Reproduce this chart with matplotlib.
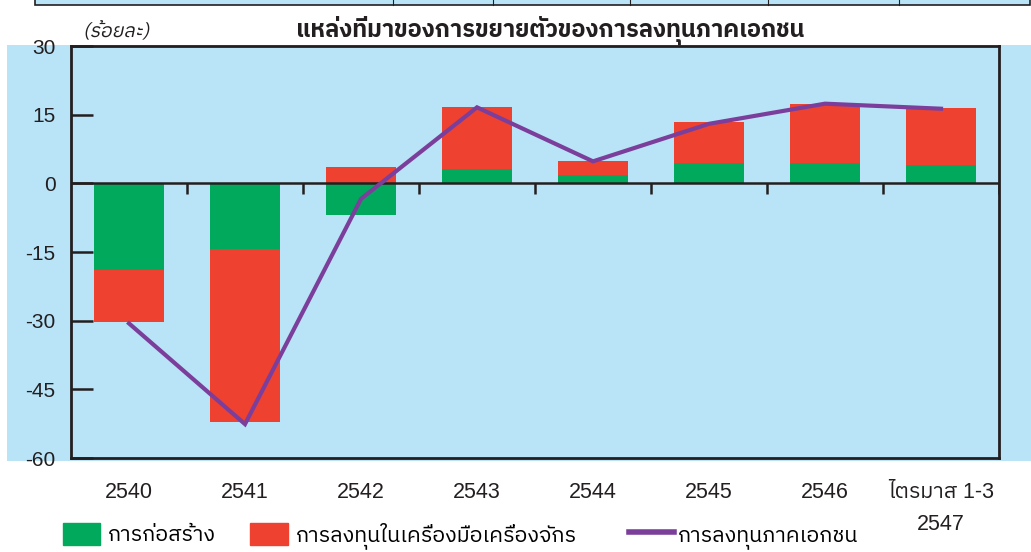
import numpy as np
import matplotlib
matplotlib.use("Agg")
import matplotlib.pyplot as plt
from matplotlib import font_manager
from matplotlib.ft2font import FT2Font
from matplotlib.font_manager import FontProperties
from matplotlib.patches import Patch, PathPatch, Rectangle
from matplotlib.lines import Line2D
from matplotlib.textpath import TextPath
from matplotlib.transforms import Affine2D

# data (percent)
categories = ["2540", "2541", "2542", "2543", "2544", "2545", "2546", "ไตรมาส 1-3\n2547"]
construction = [-18.9, -14.3, -6.9, 3.1, 1.9, 4.5, 4.4, 4.1]
machinery = [-11.4, -37.8, 3.5, 13.5, 2.9, 8.8, 12.9, 12.3]
private_inv = [-30.6, -52.6, -3.4, 16.6, 4.8, 13.0, 17.4, 16.3]

# find a font that can draw Thai
thai_fonts = []
for f in font_manager.fontManager.ttflist:
    try:
        if 0x0E01 in FT2Font(f.fname).get_charmap():
            thai_fonts.append(f.name)
    except Exception:
        pass
thai_fonts = sorted(set(thai_fonts), key=lambda n: ("Thai" not in n, n))
THAI = thai_fonts[0] if thai_fonts else "DejaVu Sans"
plt.rcParams["font.family"] = [THAI, "Liberation Sans", "DejaVu Sans"]
NUM_FONT = ["Liberation Sans", THAI]

GREEN = "#00A95C"
RED = "#EF4130"
PURPLE = "#7B3F9B"
BLUE = "#B9E4F8"
DARK = "#231F20"

W, H = 1031, 552
fig = plt.figure(figsize=(W / 100, H / 100), dpi=100)

# light blue panel behind the chart
fig.add_artist(Rectangle((7 / W, 1 - 461 / H), 1, (461 - 45) / H,
                         transform=fig.transFigure, fc=BLUE, ec="none", zorder=0))
# bottom edge of the table above (cropped)
fig.add_artist(Rectangle((35 / W, 1 - 5 / H), (1030 - 35) / W, 6 / H,
                         transform=fig.transFigure, fc=BLUE, ec=DARK, lw=1.2, zorder=0))
for xp in (393, 493, 630, 768, 899):
    fig.add_artist(Line2D([xp / W, xp / W], [1 - 5 / H, 1], transform=fig.transFigure,
                          color=DARK, lw=0.8))

ax = fig.add_axes([71 / W, 1 - 458 / H, (999 - 71) / W, (458 - 46) / H])
ax.set_facecolor(BLUE)

x = np.arange(len(categories))
cons = np.array(construction)
mach = np.array(machinery)
# machinery stacks on top of construction when both have the same sign
base = np.where(np.sign(mach) == np.sign(cons), cons, 0)
ax.bar(x, cons, width=0.6, color=GREEN, zorder=2)
ax.bar(x, mach, bottom=base, width=0.6, color=RED, zorder=2)
ax.plot(x, private_inv, color=PURPLE, lw=3, zorder=4, solid_joinstyle="miter")

# zero line with category separators
ax.axhline(0, color=DARK, lw=1.8, zorder=3)
ax.vlines(np.arange(0.5, len(categories) + 0.5), -2.4, 0, color=DARK, lw=1.8, zorder=3)

ax.set_xlim(-0.5, len(categories) - 0.5)
ax.set_ylim(-60, 30)
ax.set_yticks([30, 15, 0, -15, -30, -45, -60])
ax.set_yticklabels(["30", "15", "0", "-15", "-30", "-45", "-60"], family=NUM_FONT)
ax.tick_params(axis="y", direction="in", length=16, width=1.8, color=DARK,
               pad=11, labelsize=15, labelcolor=DARK)
ax.set_xticks(x)
ax.set_xticklabels(categories, family=NUM_FONT, linespacing=1.7)
ax.tick_params(axis="x", length=0, pad=17, labelsize=15.5, labelcolor=DARK)
for s in ax.spines.values():
    s.set_color(DARK)
    s.set_linewidth(2)

fig.text(0.534, 1 - 30 / H, "แหล่งที่มาของการขยายตัวของการลงทุนภาคเอกชน",
         ha="center", va="center", fontsize=17, fontweight="bold", color=DARK)

# unit label, slanted by hand since the Thai font has no italic face
unit_path = TextPath((0, 0), "(ร้อยละ)", size=19.5, prop=FontProperties(family=THAI))
unit_tf = Affine2D().skew_deg(12, 0).translate(83, H - 37)
fig.add_artist(PathPatch(unit_path, transform=unit_tf, fc=DARK, ec="none", lw=0))

handles = [Patch(color=GREEN), Patch(color=RED)]
labels = ["การก่อสร้าง", "การลงทุนในเครื่องมือเครื่องจักร"]
fig.legend(handles, labels, loc="lower left", bbox_to_anchor=(54 / W, -0.01), ncol=2,
           frameon=False, fontsize=15.5, handlelength=1.75, handleheight=1.2,
           handletextpad=0.35, columnspacing=1.6, borderaxespad=0)
fig.legend([Line2D([], [], color=PURPLE, lw=4)], ["การลงทุนภาคเอกชน"], loc="lower left",
           bbox_to_anchor=(620 / W, -0.01), frameon=False, fontsize=15.5,
           handlelength=2.1, handleheight=1.2, handletextpad=0.2, borderaxespad=0)

fig.savefig("out.png", dpi=100)
